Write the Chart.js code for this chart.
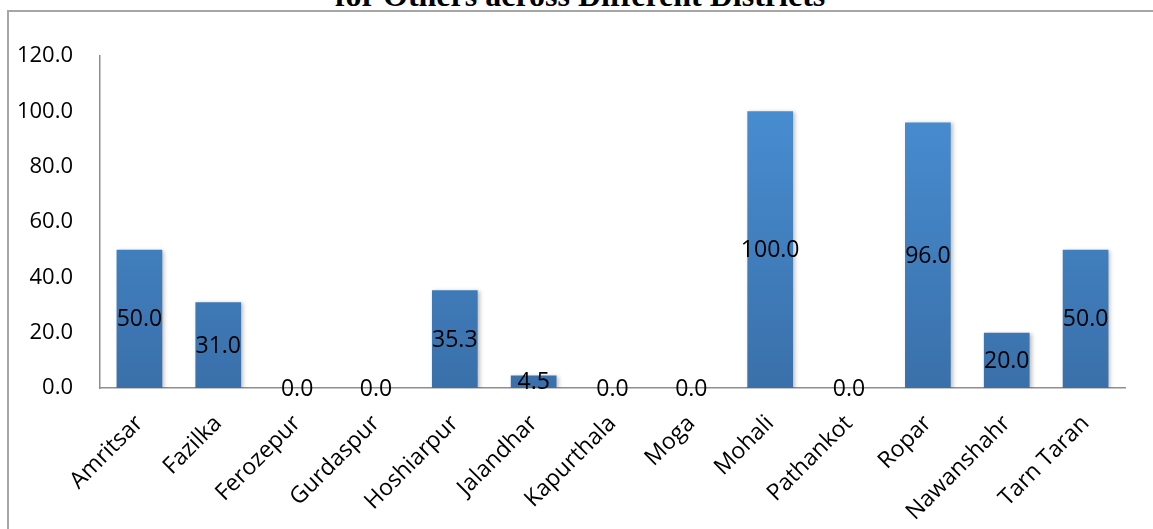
<!DOCTYPE html>
<html>
<head>
<meta charset="utf-8">
<script src="https://cdn.jsdelivr.net/npm/chart.js@4"></script>
<style>
  html, body { margin: 0; padding: 0; background: #fff; overflow: hidden; }
  #wrap { position: relative; width: 1153px; height: 529px; }
  #frame {
    position: absolute; left: 7px; top: 10px; width: 1160px; height: 540px;
    border: 2px solid #a6a6a6; box-sizing: border-box;
  }
  #title {
    position: absolute; left: 0; width: 1160px; top: -23px; text-align: center;
    font: bold 32px "Liberation Serif", "Times New Roman", serif; color: #000;
    line-height: 36px; white-space: nowrap;
  }
  #chart { position: absolute; left: 0; top: 0; }
</style>
</head>
<body>
<div id="wrap">
  <div id="frame"></div>
  <div id="title">for Others across Different Districts</div>
  <canvas id="chart" width="1153" height="529"></canvas>
</div>
<script>
// data
const districts = ["Amritsar", "Fazilka", "Ferozepur", "Gurdaspur", "Hoshiarpur", "Jalandhar",
  "Kapurthala", "Moga", "Mohali", "Pathankot", "Ropar", "Nawanshahr", "Tarn Taran"];
const values = [50.0, 31.0, 0.0, 0.0, 35.3, 4.5, 0.0, 0.0, 100.0, 0.0, 96.0, 20.0, 50.0];
const yTicks = [0, 20, 40, 60, 80, 100, 120];

const fontFamily = "'Open Sans', 'Noto Sans', sans-serif";
const tickFont = { family: fontFamily, size: 22 };
const catFont = { family: fontFamily, size: 23 };
const valueFontSize = 23;

// bar gradient, lighter at the top
function barFill(ctx) {
  const area = ctx.chart.chartArea;
  if (!area) return "#4282c6";
  const g = ctx.chart.ctx.createLinearGradient(0, area.top, 0, area.bottom);
  g.addColorStop(0, "#4a92d8");
  g.addColorStop(1, "#3a70aa");
  return g;
}

// soft shadow under bars
const barShadow = {
  id: "barShadow",
  beforeDatasetsDraw(chart) {
    const c = chart.ctx;
    c.save();
    c.shadowColor = "rgba(0,0,0,0.25)";
    c.shadowBlur = 4;
    c.shadowOffsetX = 2;
    c.shadowOffsetY = 1;
  },
  afterDatasetsDraw(chart) {
    chart.ctx.restore();
  }
};

// value labels centred in each bar
const centerLabels = {
  id: "centerLabels",
  afterDatasetsDraw(chart) {
    const c = chart.ctx;
    const meta = chart.getDatasetMeta(0);
    c.save();
    c.font = valueFontSize + "px " + fontFamily;
    c.fillStyle = "#000";
    c.textAlign = "center";
    c.textBaseline = "middle";
    meta.data.forEach((bar, i) => {
      const y = (bar.y + bar.base) / 2;
      c.fillText(values[i].toFixed(1), bar.x, y + 1);
    });
    c.restore();
  }
};

new Chart(document.getElementById("chart"), {
  type: "bar",
  data: {
    labels: districts,
    datasets: [{
      data: values,
      backgroundColor: barFill,
      borderWidth: 0,
      barPercentage: 0.58,
      categoryPercentage: 1.0
    }]
  },
  options: {
    responsive: false,
    animation: false,
    layout: { padding: { top: 56, right: 28, left: 0, bottom: 0 } },
    plugins: { legend: { display: false }, tooltip: { enabled: false } },
    scales: {
      x: {
        grid: { display: false, drawTicks: false },
        border: { color: "#8e8e8e", width: 1.5 },
        ticks: { color: "#000", font: catFont, minRotation: 45, maxRotation: 45, padding: 22 },
        afterFit(s) { s.height = 141; }
      },
      y: {
        min: 0, max: 120,
        grid: { display: false, drawTicks: false },
        border: { color: "#8e8e8e", width: 1.5 },
        afterBuildTicks(s) { s.ticks = yTicks.map(v => ({ value: v })); },
        ticks: { color: "#000", font: tickFont, padding: 27, callback: v => v.toFixed(1) },
        afterFit(s) { s.width = 100; }
      }
    }
  },
  plugins: [barShadow, centerLabels]
});
</script>
</body>
</html>
